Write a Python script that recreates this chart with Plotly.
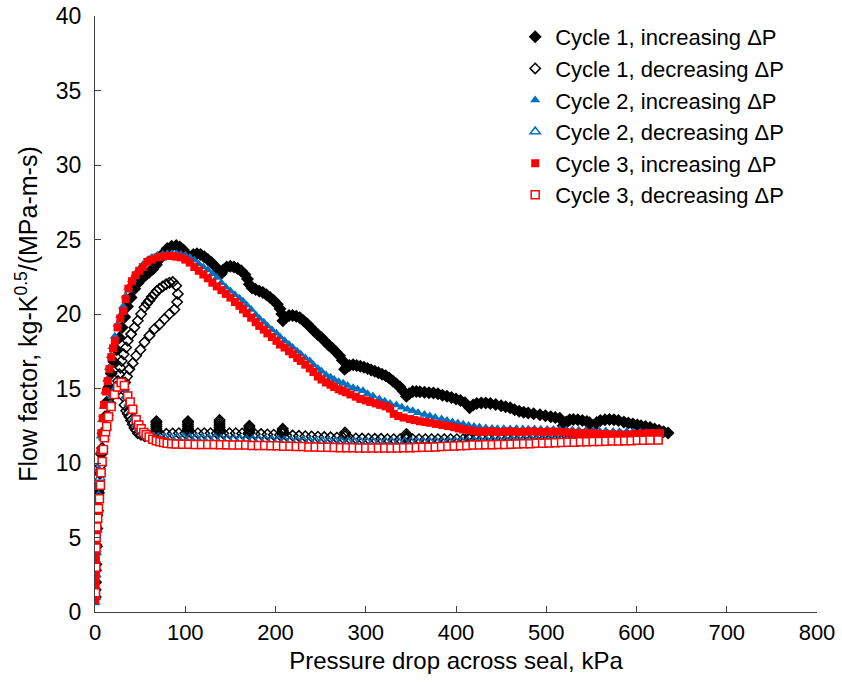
import plotly.graph_objects as go

# ---------------- data (kPa, flow factor) ----------------
c1_inc_kpa = [0.5,0.8,1.2,1.6,2.2,3,4,5.5,7,9,
              11,13,15.5,18,21,24,27,30,33,36,
              40,44,48,52,56,60,64,68,72,76,
              80,85,90,94,98,101,104,106,109,113,
              117,121,125,129,133,137,139.8,142,146,150,
              154,158,162,166,169,171,174,178,182,186,
              190,194,198,202,205,207,208.2,211,215,219,
              223,227,231,235,239,243,247,251,255,259,
              263,267,271,274,276.6,279,282,286,290,294,
              298,302,306,310,314,318,322,326,330,334,
              338,341,345,348,352,356,360,365,370,375,
              380,385,390,395,400,405,410,415,419,423,
              428,433,438,444,450,455,460,465,470,475,
              480,486,493,499,505,510,515,518.7,522,526,
              530,535,540,545,548,550.5,553,556,560,565,
              570,575,580,586,591,596,601,605,610,615,
              620,625,630,635]
c1_inc_ff = [1.0,2.0,3.2,4.4,5.6,6.8,8.0,9.3,10.6,12.0,
             13.1,14.1,15.1,16.0,16.8,17.6,18.4,19.1,19.8,20.5,
             21.1,21.7,22.1,22.4,22.6,22.8,23.0,23.3,23.7,24.1,
             24.4,24.55,24.6,24.5,24.3,24.05,23.8,23.75,24.0,24.05,
             24.0,23.85,23.65,23.45,23.2,22.95,22.7,22.95,23.15,23.2,
             23.15,23.05,22.9,22.65,22.35,22.0,21.75,21.65,21.55,21.45,
             21.3,21.1,20.9,20.65,20.35,20.0,19.55,19.75,19.9,19.9,
             19.85,19.75,19.55,19.35,19.1,18.85,18.6,18.4,18.15,17.9,
             17.7,17.45,17.2,16.9,16.3,16.45,16.55,16.6,16.55,16.5,
             16.42,16.35,16.25,16.15,16.05,15.95,15.85,15.7,15.5,15.3,
             15.1,14.85,14.48,14.65,14.8,14.8,14.78,14.75,14.72,14.7,
             14.65,14.55,14.48,14.4,14.3,14.2,14.05,13.7,13.9,14.0,
             14.03,14.02,14.0,13.92,13.85,13.78,13.7,13.58,13.47,13.4,
             13.35,13.3,13.24,13.17,13.1,13.05,13.0,12.5,12.75,12.9,
             12.92,12.9,12.85,12.78,12.7,12.3,12.55,12.72,12.85,12.9,
             12.92,12.9,12.85,12.76,12.68,12.62,12.55,12.5,12.45,12.38,
             12.28,12.2,12.1,12.02]

c1_dec_kpa = [625,618,611,604,597,590,583,576,569,562,
              555,548,541,534,527,520,513,506,499,492,
              485,478,471,464,457,450,443,436,429,422,
              415,408,401,394,387,380,373,366,359,352,
              345,338,331,324,317,310,303,296,289,282,
              275,268,261,254,247,240,233,226,219,212,
              205,198,191,184,177,170,163,156,149,142,
              135,128,121,114,107,100,93,86,79,72,
              65,60,55,51,47.4,45.6,43.7,41.8,40,38.1,
              36.3,34.5,32.6,30.7,31.8,33.4,35.6,38.1,41.8,45.6,
              50.3,54.8,60.3,65.9,71.4,77,82.5,88,91,91.8,
              90,86.2,82.5,78.8,75,71.4,68.5,65.9,63,60.3,
              57.5,54.8,51.1,47.4,43.7,40,36.3,34.5,31.8,29.6,
              28.2,27,25.5,23,20,17,14,11,8,6,
              4,2.5,1.5,1,0.6,
              68,68,68,68,68,68,68,103,103,103,
              103,103,103,103,138,138,138,138,138,138,
              138,171,171,171,171,171,208,208,208,208,
              277,277,277,345,345,345,415,415]
c1_dec_ff = [11.95,11.92,11.9,11.88,11.86,11.85,11.84,11.83,11.82,11.8,
             11.8,11.78,11.77,11.76,11.75,11.74,11.73,11.72,11.71,11.7,
             11.69,11.68,11.67,11.66,11.65,11.64,11.63,11.62,11.62,11.61,
             11.6,11.6,11.6,11.6,11.6,11.6,11.6,11.6,11.6,11.6,
             11.6,11.6,11.6,11.6,11.62,11.62,11.63,11.64,11.65,11.66,
             11.68,11.7,11.72,11.74,11.76,11.78,11.8,11.82,11.84,11.86,
             11.88,11.9,11.92,11.94,11.95,11.96,11.98,12.0,12.0,12.0,
             12.0,12.0,12.0,12.0,12.0,12.0,12.0,11.98,11.96,11.94,
             11.9,11.85,11.8,11.9,12.0,12.2,12.35,12.6,12.85,13.1,
             13.3,13.5,13.9,14.5,14.9,15.4,15.8,16.3,16.7,17.2,
             17.6,18.1,18.55,19.0,19.3,19.66,20.0,20.3,20.8,21.35,
             21.9,22.14,22.1,22.0,21.85,21.7,21.55,21.35,21.15,20.9,
             20.7,20.45,20.0,19.55,19.1,18.65,18.2,17.75,17.3,16.85,
             16.4,15.95,15.5,15.1,14.6,14.0,13.2,12.2,11.0,9.8,
             8.2,6.5,4.5,2.8,1.5,
             12.1,12.22,12.34,12.46,12.58,12.7,12.8,12.1,12.22,12.34,
             12.46,12.58,12.7,12.8,12.1,12.23,12.36,12.49,12.62,12.75,
             12.88,12.05,12.17,12.29,12.41,12.5,11.95,12.07,12.19,12.3,
             11.8,11.93,12.05,11.7,11.82,11.95,11.7,11.85]

c2_inc_kpa = [0.3,0.5,0.7,0.9,1.1,1.4,1.8,2.5,3.5,4.5,
              5.5,6.5,8,9.5,11.5,13.5,15.5,17.5,19.5,22,
              25,28,31,34,37,41,45,49,53,58,
              63,69,75,80,85,90,95,100,105,110,
              115,120,125,130,135,140,145,150,155,160,
              164,168,173,178,182,187,191,196,201,205,
              210,215,219,224,228,233,238,242,247,251,
              256,261,265,270,275,280,286,291,297,302,
              308,315,321,327,334,340,346,352,358,365,
              371,377,384,390,396,402,408,414,420,426,
              433,440,446,453,460,467,474,480,487,494,
              501,508,515,522,529,536,544,552,559,566,
              574,581,589,596,604,611,618,625]
c2_inc_ff = [0.6,1.5,2.5,3.5,4.5,5.5,6.5,7.5,8.6,9.6,
             10.8,11.8,12.9,13.8,14.8,15.6,16.4,17.2,17.8,18.5,
             19.3,19.9,20.5,21.2,21.8,22.3,22.7,23.0,23.3,23.6,
             23.8,23.95,24.0,24.05,24.05,24.05,24.0,23.95,23.8,23.6,
             23.35,23.15,22.95,22.7,22.45,22.1,21.8,21.55,21.3,21.05,
             20.85,20.6,20.3,19.95,19.7,19.45,19.2,18.95,18.7,18.45,
             18.2,17.95,17.75,17.5,17.3,17.05,16.85,16.6,16.35,16.15,
             15.9,15.75,15.6,15.45,15.35,15.2,15.05,14.95,14.85,14.65,
             14.5,14.3,14.15,14.0,13.9,13.75,13.6,13.5,13.38,13.25,
             13.15,13.05,12.95,12.85,12.75,12.68,12.6,12.52,12.45,12.4,
             12.35,12.32,12.3,12.3,12.28,12.3,12.28,12.26,12.28,12.26,
             12.25,12.25,12.24,12.22,12.22,12.2,12.2,12.18,12.15,12.15,
             12.12,12.1,12.1,12.08,12.08,12.05,12.05,12.05]

c2_dec_kpa = [0.4,0.8,1.2,2,3,4,5.5,7,8.5,10,
              12,14,17,20,23,26,29,32,35,38,
              41,44,47,50,53,56,60,65,70,77,
              84,91,98,105,112,119,126,133,140,147,
              154,161,168,175,182,189,196,203,210,217,
              224,231,238,245,252,259,266,273,280,287,
              294,301,308,315,322,329,336,343,350,357,
              364,371,378,385,392,399,406,413,420,427,
              434,441,448,455,462,469,476,483,490,497,
              504,511,518,525,532,539,546,553,560,567,
              574,581,588,595,602,609,616,622]
c2_dec_ff = [1.0,2.5,4.0,5.5,6.8,7.8,9.0,10.0,10.9,11.7,
             12.4,13.1,13.9,14.5,15.0,15.3,15.35,15.0,14.5,14.0,
             13.5,13.0,12.6,12.3,12.05,11.9,11.8,11.75,11.72,11.7,
             11.7,11.7,11.7,11.68,11.68,11.66,11.65,11.64,11.62,11.6,
             11.6,11.58,11.57,11.56,11.55,11.54,11.53,11.52,11.5,11.5,
             11.48,11.47,11.46,11.45,11.45,11.44,11.43,11.42,11.42,11.41,
             11.4,11.4,11.4,11.4,11.4,11.4,11.4,11.4,11.4,11.4,
             11.4,11.4,11.41,11.42,11.42,11.43,11.44,11.45,11.46,11.47,
             11.48,11.49,11.5,11.51,11.52,11.53,11.54,11.55,11.56,11.57,
             11.58,11.59,11.6,11.61,11.62,11.63,11.64,11.65,11.66,11.67,
             11.68,11.7,11.72,11.74,11.76,11.78,11.8,11.82]

c3_inc_kpa = [0.4,0.5,0.6,0.7,0.8,0.9,1.0,1.1,1.2,1.4,
              1.6,1.8,2.2,3,4,5,6,7,8.5,10,
              12,14,16,18,20,22,25,28,31,34,
              37,41,45,49,53,58,63,69,75,80,
              85,90,95,100,105,110,115,120,125,130,
              135,140,145,150,155,160,164,168,173,178,
              182,187,191,196,201,205,210,215,219,224,
              228,233,238,242,247,251,256,261,265,270,
              274,278,283,289,294,300,305,311,316,322,
              327,331,336,342,349,354,360,366,371,378,
              385,391,398,403,408,414,420,425,430,436,
              442,448,454,460,466,472,478,484,490,496,
              502,508,515,521,527,533,539,545,552,558,
              564,570,576,582,589,595,601,607,613,619,
              626]
c3_inc_ff = [0.8,1.3,1.8,2.3,2.8,3.3,3.8,4.3,4.8,5.3,
             5.8,6.3,6.8,7.5,8.5,9.4,10.8,12.0,13.0,13.9,
             14.8,15.5,16.3,17.1,17.7,18.2,19.1,19.7,20.2,21.0,
             21.7,22.2,22.6,22.9,23.15,23.5,23.65,23.8,23.85,23.9,
             23.9,23.85,23.8,23.65,23.45,23.15,22.9,22.65,22.4,22.1,
             21.85,21.6,21.35,21.1,20.8,20.55,20.3,20.05,19.75,19.45,
             19.2,18.95,18.7,18.45,18.2,17.95,17.75,17.5,17.3,17.05,
             16.85,16.6,16.35,16.1,15.8,15.6,15.4,15.25,15.1,14.95,
             14.85,14.75,14.6,14.45,14.3,14.2,14.1,14.0,13.9,13.8,
             13.65,13.3,13.15,13.05,12.95,12.88,12.8,12.75,12.7,12.62,
             12.55,12.48,12.4,12.32,12.25,12.2,12.15,12.1,12.1,12.12,
             12.1,12.08,12.1,12.12,12.1,12.08,12.1,12.12,12.1,12.08,
             12.1,12.1,12.1,12.05,12.05,12.0,12.02,12.0,12.0,11.95,
             11.95,11.92,11.9,11.9,11.9,11.92,11.95,11.98,12.0,12.0,
             12.0]

c3_dec_kpa = [0.5,1.0,1.2,1.3,2.0,3.0,3.8,4.9,6.0,6.8,
              7.9,9.3,10.4,11.7,13.0,14.9,17.8,21.5,25.2,29,
              32.5,36.3,39,41.8,45.6,48.5,51.1,54,56.7,60,
              64,68,72,76,80,85,90,97,104,111,
              118,125,132,139,146,153,160,167,174,181,
              188,195,202,209,216,223,230,237,244,251,
              258,265,272,279,286,293,300,307,314,321,
              328,335,342,349,356,363,370,377,384,391,
              398,405,412,419,426,433,440,447,454,461,
              468,475,482,489,496,503,510,517,524,531,
              538,545,552,559,566,573,580,587,594,601,
              608,615,624]
c3_dec_ff = [1.3,3.0,4.3,5.0,5.7,6.3,6.95,7.6,8.5,9.35,
             10.1,10.9,11.7,12.1,12.45,13.1,13.8,14.6,15.1,15.4,
             15.2,14.5,14.1,13.6,12.9,12.55,12.3,12.05,11.9,11.75,
             11.6,11.5,11.42,11.38,11.32,11.3,11.28,11.26,11.26,11.25,
             11.25,11.24,11.24,11.22,11.22,11.2,11.2,11.2,11.18,11.18,
             11.17,11.15,11.15,11.12,11.12,11.1,11.1,11.08,11.07,11.06,
             11.05,11.04,11.03,11.02,11.02,11.0,11.0,11.0,11.0,11.0,
             11.0,11.0,11.02,11.03,11.04,11.05,11.06,11.08,11.1,11.12,
             11.14,11.16,11.18,11.2,11.2,11.22,11.22,11.24,11.25,11.26,
             11.28,11.29,11.3,11.32,11.33,11.35,11.36,11.38,11.39,11.4,
             11.42,11.43,11.44,11.45,11.46,11.47,11.48,11.5,11.5,11.52,
             11.53,11.54,11.55]

series_names = ["Cycle 1, increasing \u0394P", "Cycle 1, decreasing \u0394P",
                "Cycle 2, increasing \u0394P", "Cycle 2, decreasing \u0394P",
                "Cycle 3, increasing \u0394P", "Cycle 3, decreasing \u0394P"]

x_ticks = [0, 100, 200, 300, 400, 500, 600, 700, 800]
y_ticks = [0, 5, 10, 15, 20, 25, 30, 35, 40]

BLUE = "#0070C0"
RED = "#FF0000"

fig = go.Figure()
fig.add_trace(go.Scatter(x=c1_inc_kpa, y=c1_inc_ff, mode="markers", name=series_names[0],
                         marker=dict(symbol="diamond", size=10, color="black")))
fig.add_trace(go.Scatter(x=c1_dec_kpa, y=c1_dec_ff, mode="markers", name=series_names[1],
                         marker=dict(symbol="diamond-open", size=8, color="black",
                                     line=dict(width=1.5, color="black"))))
fig.add_trace(go.Scatter(x=c2_inc_kpa, y=c2_inc_ff, mode="markers", name=series_names[2],
                         marker=dict(symbol="triangle-up", size=9, color=BLUE)))
fig.add_trace(go.Scatter(x=c2_dec_kpa, y=c2_dec_ff, mode="markers", name=series_names[3],
                         marker=dict(symbol="triangle-up-open", size=9, color=BLUE,
                                     line=dict(width=1.5, color=BLUE))))
fig.add_trace(go.Scatter(x=c3_inc_kpa, y=c3_inc_ff, mode="markers", name=series_names[4],
                         marker=dict(symbol="square", size=8, color=RED)))
fig.add_trace(go.Scatter(x=c3_dec_kpa, y=c3_dec_ff, mode="markers", name=series_names[5],
                         marker=dict(symbol="square", size=8, color="white",
                                     line=dict(width=1.5, color=RED))))

axis_common = dict(showline=True, linecolor="#404040", linewidth=1.3,
                   ticks="inside", ticklen=6, tickwidth=1.3, tickcolor="#404040",
                   showgrid=False, zeroline=False)

fig.update_layout(
    width=842, height=686,
    margin=dict(l=95, r=25, t=16, b=74, autoexpand=False),
    plot_bgcolor="white", paper_bgcolor="white",
    font=dict(family="Liberation Sans, Arial, sans-serif", color="black"),
    xaxis=dict(range=[0, 800], tickvals=x_ticks, tickfont=dict(size=22, color="black"),
               title=dict(text="Pressure drop across seal, kPa", font=dict(size=24), standoff=8),
               **axis_common),
    yaxis=dict(range=[0, 40], tickvals=y_ticks, tickfont=dict(size=23, color="black"),
               ticklabelstandoff=8,
               title=dict(text="Flow factor, kg-K<sup>0.5</sup>/(MPa-m-s)", font=dict(size=25), standoff=10),
               **axis_common),
    legend=dict(x=0.582, y=1.0, xanchor="left", yanchor="top",
                font=dict(size=22, color="black"), bgcolor="rgba(0,0,0,0)",
                tracegroupgap=0, itemsizing="trace"),
)

fig.write_html("out.html")
